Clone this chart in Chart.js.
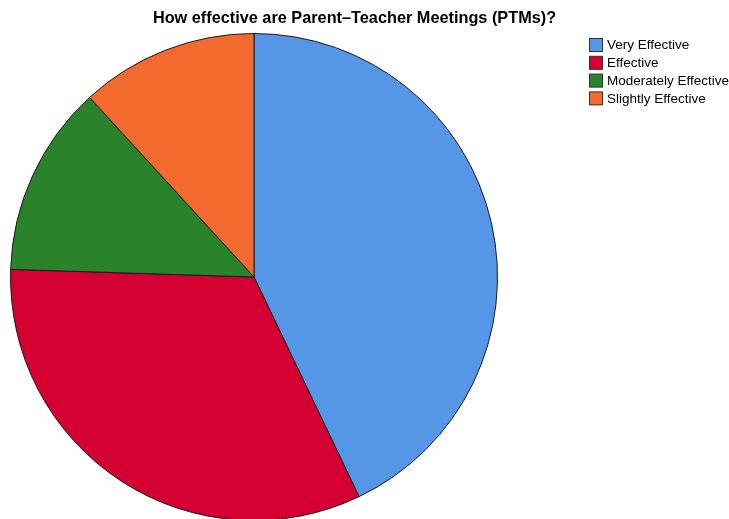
<!DOCTYPE html>
<html>
<head>
<meta charset="utf-8">
<script src="https://cdn.jsdelivr.net/npm/chart.js@4"></script>
<style>
  html, body { margin: 0; padding: 0; background: #fff; }
  #wrap { width: 729px; height: 519px; overflow: hidden; position: relative; }
  #wrap canvas { position: absolute; left: 0; top: 0; }
</style>
</head>
<body>
<div id="wrap"><canvas id="c" width="729" height="530"></canvas></div>
<script>
const categories = ["Very Effective", "Effective", "Moderately Effective", "Slightly Effective"];
const percents = [42.9, 32.6, 12.7, 11.8];
const colors = ["#5596E6", "#D50032", "#2A832A", "#F26A2E"];
const titleText = "How effective are Parent\u2013Teacher Meetings (PTMs)?";

// Title and legend drawn on the canvas after the pie
const annotations = {
  id: "annotations",
  afterDraw(chart) {
    const ctx = chart.ctx;
    ctx.save();
    ctx.fillStyle = "#000";
    ctx.font = "bold 16.3px 'Liberation Sans', Arial, sans-serif";
    ctx.textAlign = "center";
    ctx.textBaseline = "middle";
    ctx.fillText(titleText, 354.5, 19);

    ctx.font = "13.5px 'Liberation Sans', Arial, sans-serif";
    ctx.textAlign = "left";
    categories.forEach((label, i) => {
      const y = 45 + i * 17.8;
      ctx.fillStyle = colors[i];
      ctx.fillRect(589.5, y - 6.5, 13, 13);
      ctx.strokeStyle = "#333";
      ctx.lineWidth = 1;
      ctx.strokeRect(589.5, y - 6.5, 13, 13);
      ctx.fillStyle = "#000";
      ctx.fillText(label, 607, y + 0.5);
    });
    ctx.restore();
  }
};

new Chart(document.getElementById("c"), {
  type: "pie",
  data: {
    labels: categories,
    datasets: [{
      data: percents,
      backgroundColor: colors,
      borderColor: "#1a1a1a",
      borderWidth: 1,
      clip: false
    }]
  },
  options: {
    responsive: false,
    animation: false,
    layout: { padding: { left: 10, right: 231, top: 33, bottom: 9 } },
    plugins: {
      legend: { display: false },
      title: { display: false },
      tooltip: { enabled: false }
    }
  },
  plugins: [annotations]
});
</script>
</body>
</html>
